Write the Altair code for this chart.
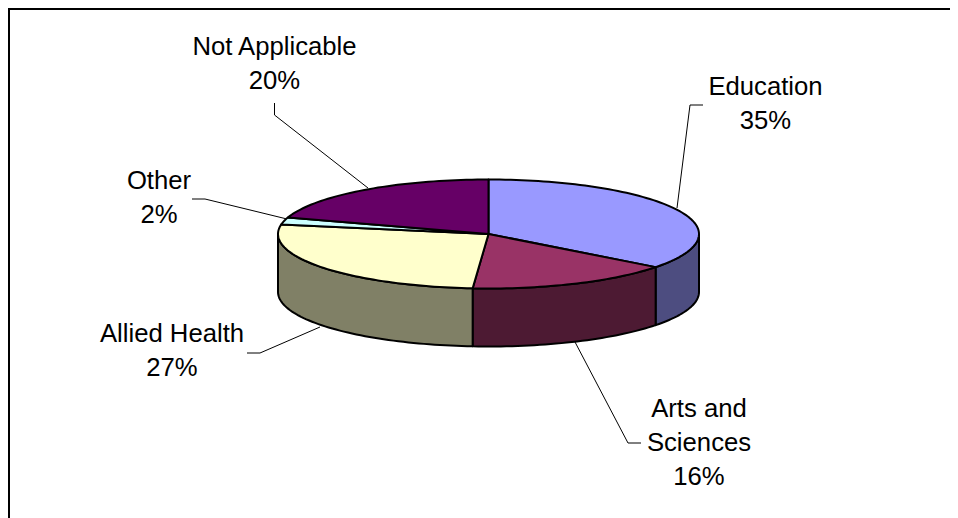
import math
import altair as alt
import pandas as pd

# Slice values (labels show the rounded percentages)
names = ["Education", "Arts and Sciences", "Allied Health", "Other", "Not Applicable"]
shares = [35.4, 15.8, 26.6, 2.1, 20.1]
top_colors = ["#9999ff", "#993366", "#ffffcc", "#ccffff", "#660066"]
side_colors = ["#4d4d80", "#4d1a33", "#808066", "#668080", "#330033"]

label_lines = [["Education", "35%"], ["Arts and", "Sciences", "16%"],
               ["Allied Health", "27%"], ["Other", "2%"], ["Not Applicable", "20%"]]
label_x = [765.5, 699, 172, 159, 274.5]
label_y = [95, 417, 342, 189, 55]

leader_names = [0, 1, 2, 3, 4]
leader_x = [[703, 690, 677], [641, 628, 575], [247, 260, 320], [192, 205, 287], [274.5, 274.5, 368]]
leader_y = [[105, 105, 208], [443, 443, 342], [353, 353, 327], [199, 199, 219], [103, 115, 188]]

frame_x = [9, 9, 950]
frame_y = [518, 9, 9]

cx, cy, rx, ry, depth = 488.5, 234, 210.5, 54.5, 58
line_step = 34
font = "Liberation Sans"
W, H = 942, 510

xs = alt.X("x:Q", scale=alt.Scale(domain=[8, 8 + W]), axis=None)
ys = alt.Y("y:Q", scale=alt.Scale(domain=[8 + H, 8]), axis=None)


def pt(deg, dy=0.0):
    a = math.radians(deg)
    return cx + rx * math.sin(a), cy - ry * math.cos(a) + dy


def arc(a0, a1, dy=0.0):
    n = max(2, int(abs(a1 - a0) / 1.5))
    return [pt(a0 + (a1 - a0) * i / n, dy) for i in range(n + 1)]


def poly(points, fill, width=2.0):
    pts = list(points) + [points[0]]
    df = pd.DataFrame({"x": [p[0] for p in pts], "y": [p[1] for p in pts], "i": range(len(pts))})
    return alt.Chart(df).mark_line(fill=fill, stroke="#000000", strokeWidth=width,
                                   strokeJoin="round", clip=False).encode(
        x=xs, y=ys, order="i:Q")


layers = []
# frame
fr = pd.DataFrame({"x": frame_x, "y": frame_y, "i": range(3)})
layers.append(alt.Chart(fr).mark_line(color="#000000", strokeWidth=2).encode(x=xs, y=ys, order="i:Q"))

# leaders
for i in leader_names:
    d = pd.DataFrame({"x": leader_x[i], "y": leader_y[i], "i": range(len(leader_x[i]))})
    layers.append(alt.Chart(d).mark_line(color="#000000", strokeWidth=1).encode(x=xs, y=ys, order="i:Q"))

# walls (front half: 90..270 deg)
start = 0.0
spans = []
for s in shares:
    spans.append((start, start + s * 3.6))
    start += s * 3.6

for (a0, a1), col in zip(spans, side_colors):
    lo, hi = max(a0, 90), min(a1, 270)
    if lo < hi:
        layers.append(poly(arc(lo, hi) + arc(hi, lo, depth), col))

# top face
for (a0, a1), col in zip(spans, top_colors):
    layers.append(poly([(cx, cy)] + arc(a0, a1), col))

# labels
rows = []
for lines, lx, ly in zip(label_lines, label_x, label_y):
    for k, t in enumerate(lines):
        rows.append({"x": lx, "y": ly + k * line_step, "t": t})
layers.append(alt.Chart(pd.DataFrame(rows)).mark_text(
    font=font, fontSize=25.7, color="#000000", align="center", baseline="alphabetic"
).encode(x=xs, y=ys, text="t:N"))

chart = alt.layer(*layers).properties(
    width=W, height=H, padding=0, autosize=alt.AutoSizeParams(type="none"),
    background="#ffffff"
).configure_view(stroke=None)

chart.save("out.html", embed_options={"renderer": "svg", "actions": False})
